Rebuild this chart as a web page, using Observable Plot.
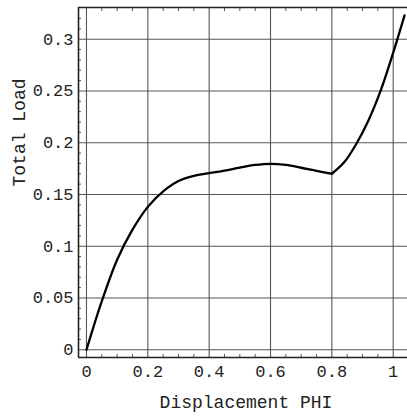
<!DOCTYPE html>
<html>
<head>
<meta charset="utf-8">
<script src="https://cdn.jsdelivr.net/npm/d3@7"></script>
<script src="https://cdn.jsdelivr.net/npm/@observablehq/plot@0.6"></script>
<style>
  html, body { margin: 0; padding: 0; background: white; }
</style>
</head>
<body>
<div id="chart"></div>
<script>
// Data (Displacement PHI vs Total Load)
const phiRising = [0, 0.05, 0.1, 0.15, 0.2, 0.25, 0.3, 0.35, 0.4, 0.45, 0.5, 0.55, 0.6, 0.65, 0.7, 0.75, 0.8];
const loadRising = [0, 0.047, 0.087, 0.116, 0.138, 0.153, 0.163, 0.168, 0.1706, 0.173, 0.176, 0.1785, 0.1796, 0.1785, 0.1758, 0.1728, 0.170];
const phiUpper = [0.8, 0.84, 0.88, 0.92, 0.96, 1.0, 1.037];
const loadUpper = [0.170, 0.181, 0.199, 0.222, 0.251, 0.287, 0.323];

const xTicks = [0, 0.2, 0.4, 0.6, 0.8, 1];
const xTickLabels = ["0", "0.2", "0.4", "0.6", "0.8", "1"];
const yTicks = [0, 0.05, 0.1, 0.15, 0.2, 0.25, 0.3];
const yTickLabels = ["0", "0.05", "0.1", "0.15", "0.2", "0.25", "0.3"];
const xMinorTicks = [0.05, 0.1, 0.15, 0.25, 0.3, 0.35, 0.45, 0.5, 0.55, 0.65, 0.7, 0.75, 0.85, 0.9, 0.95];
const yMinorTicks = [0.01, 0.02, 0.03, 0.04, 0.06, 0.07, 0.08, 0.09, 0.11, 0.12, 0.13, 0.14, 0.16, 0.17, 0.18, 0.19, 0.21, 0.22, 0.23, 0.24, 0.26, 0.27, 0.28, 0.29, 0.31, 0.32];
const xLabel = "Displacement PHI";
const yLabel = "Total Load";

const curve = [
  ...phiRising.map((x, i) => ({x, y: loadRising[i], seg: "a"})),
  ...phiUpper.map((x, i) => ({x, y: loadUpper[i], seg: "b"}))
];

const xDomain = [-0.026, 1.0466];
const yDomain = [-0.0075, 0.3306];
const ink = "#222";

const chart = Plot.plot({
  width: 407,
  height: 419,
  marginLeft: 78,
  marginRight: 0,
  marginTop: 7,
  marginBottom: 62,
  x: {domain: xDomain},
  y: {domain: yDomain},
  style: {fontFamily: "'Liberation Mono', 'DejaVu Sans Mono', monospace", fontSize: "17px", background: "white", color: ink},
  marks: [
    // grid
    Plot.ruleX(xTicks, {stroke: "#555", strokeWidth: 1.1}),
    Plot.ruleY(yTicks, {stroke: "#555", strokeWidth: 1.1}),
    // minor ticks (inward)
    Plot.axisY({anchor: "left", ticks: yMinorTicks, tickSize: -3, tickFormat: () => "", label: null, stroke: "#555"}),
    Plot.axisX({anchor: "bottom", ticks: xMinorTicks, tickSize: -3, tickFormat: () => "", label: null, stroke: "#555"}),
    Plot.axisX({anchor: "top", ticks: xMinorTicks, tickSize: -3, tickFormat: () => "", label: null, stroke: "#555"}),
    // labeled ticks
    Plot.axisY({anchor: "left", ticks: yTicks, tickSize: 0, tickPadding: 5, tickFormat: d => yTickLabels[yTicks.indexOf(d)], label: null, fontSize: 17}),
    Plot.axisX({anchor: "bottom", ticks: xTicks, tickSize: 0, tickPadding: 7, tickFormat: d => xTickLabels[xTicks.indexOf(d)], label: null, fontSize: 17}),
    // frame lines
    Plot.ruleX([xDomain[0]], {stroke: ink, strokeWidth: 1.6}),
    Plot.ruleY([yDomain[0]], {stroke: ink, strokeWidth: 1.6}),
    Plot.ruleY([yDomain[1]], {stroke: ink, strokeWidth: 1.4}),
    // curve
    Plot.line(curve, {x: "x", y: "y", z: "seg", curve: "catmull-rom", stroke: "black", strokeWidth: 2.3}),
    // axis titles
    Plot.text([xLabel], {frameAnchor: "bottom", dx: 3, dy: 45, fontSize: 18, lineAnchor: "middle", fill: ink}),
    Plot.text([yLabel], {frameAnchor: "left", rotate: -90, dx: -59, dy: 4, fontSize: 18, lineAnchor: "middle", fill: ink})
  ]
});
document.getElementById("chart").appendChild(chart);
</script>
</body>
</html>
